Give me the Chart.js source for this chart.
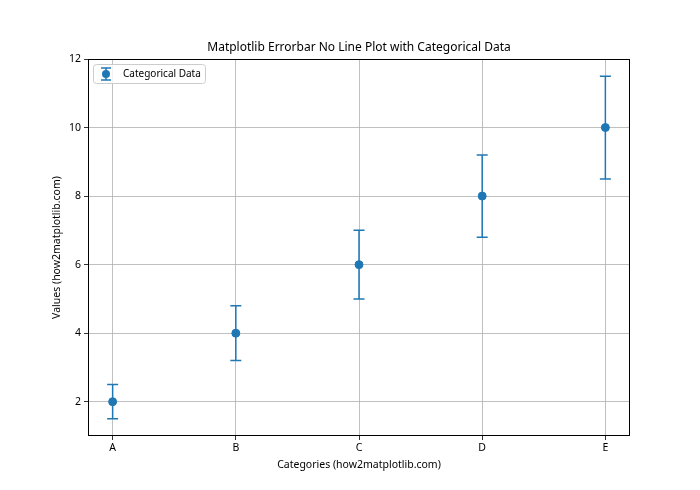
<!DOCTYPE html>
<html>
<head>
<meta charset="utf-8">
<script src="https://cdn.jsdelivr.net/npm/chart.js@4"></script>
<style>
  html, body { margin: 0; padding: 0; background: #fff; }
  #wrap { width: 700px; height: 490px; }
</style>
</head>
<body>
<div id="wrap"><canvas id="chart" width="700" height="490"></canvas></div>
<script>
// данные графика
const categories = ["A", "B", "C", "D", "E"];
const values = [2, 4, 6, 8, 10];
const errors = [0.5, 0.8, 1.0, 1.2, 1.5];
const yTicks = [2, 4, 6, 8, 10, 12];

const BLUE = "#1f77b4";
const FONT = "'Noto Sans', sans-serif";

// усы погрешностей, рамка, заголовок и легенда
const errorbarPlugin = {
    id: "errorbars",
    afterDatasetsDraw(chart) {
        const ctx = chart.ctx;
        const xs = chart.scales.x;
        const ys = chart.scales.y;
        const area = chart.chartArea;

        ctx.save();
        ctx.strokeStyle = BLUE;
        ctx.lineWidth = 1.5;
        values.forEach((v, i) => {
            const px = xs.getPixelForValue(i);
            const top = ys.getPixelForValue(v + errors[i]);
            const bot = ys.getPixelForValue(v - errors[i]);
            ctx.beginPath();
            ctx.moveTo(px, top);
            ctx.lineTo(px, bot);
            ctx.moveTo(px - 5.5, top);
            ctx.lineTo(px + 5.5, top);
            ctx.moveTo(px - 5.5, bot);
            ctx.lineTo(px + 5.5, bot);
            ctx.stroke();
        });

        // рамка
        ctx.strokeStyle = "#000";
        ctx.lineWidth = 1;
        ctx.strokeRect(Math.round(area.left) + 0.5, Math.round(area.top) + 0.5,
            Math.round(area.right - area.left) - 1, Math.round(area.bottom - area.top) - 1);

        // заголовок
        ctx.fillStyle = "#000";
        ctx.font = "12px " + FONT;
        ctx.textAlign = "center";
        ctx.textBaseline = "middle";
        ctx.fillText("Matplotlib Errorbar No Line Plot with Categorical Data", (area.left + area.right) / 2, 48);

        // легенда
        const lx = area.left + 5, ly = area.top + 5, lw = 112, lh = 19;
        ctx.fillStyle = "rgba(255,255,255,0.8)";
        ctx.strokeStyle = "#cccccc";
        ctx.beginPath();
        ctx.roundRect(lx + 0.5, ly + 0.5, lw, lh, 3);
        ctx.fill();
        ctx.stroke();
        const mx = lx + 13, my = ly + 10;
        ctx.strokeStyle = BLUE;
        ctx.lineWidth = 1.5;
        ctx.beginPath();
        ctx.moveTo(mx, my - 6); ctx.lineTo(mx, my + 6);
        ctx.moveTo(mx - 5, my - 6); ctx.lineTo(mx + 5, my - 6);
        ctx.moveTo(mx - 5, my + 6); ctx.lineTo(mx + 5, my + 6);
        ctx.stroke();
        ctx.fillStyle = BLUE;
        ctx.beginPath();
        ctx.arc(mx, my, 4, 0, Math.PI * 2);
        ctx.fill();
        ctx.fillStyle = "#000";
        ctx.font = "10px " + FONT;
        ctx.textAlign = "left";
        ctx.fillText("Categorical Data", lx + 30, my);
        ctx.restore();
    }
};

const points = values.map((v, i) => ({ x: i, y: v }));

new Chart(document.getElementById("chart"), {
    type: "scatter",
    data: {
        datasets: [{
            label: "Categorical Data",
            data: points,
            backgroundColor: BLUE,
            borderColor: BLUE,
            pointRadius: 4,
            pointHoverRadius: 4,
            showLine: false
        }]
    },
    options: {
        responsive: false,
        animation: false,
        events: [],
        layout: { padding: { top: 59, right: 70, left: 0, bottom: 0 } },
        plugins: {
            legend: { display: false },
            title: { display: false },
            tooltip: { enabled: false }
        },
        scales: {
            x: {
                type: "linear",
                min: -0.2,
                max: 4.2,
                afterBuildTicks: (scale) => {
                    scale.ticks = categories.map((c, i) => ({ value: i }));
                },
                afterFit: (scale) => { scale.height = 54; },
                ticks: {
                    callback: (v) => categories[v],
                    color: "#000",
                    font: { family: FONT, size: 10.5 },
                    padding: 2,
                    maxRotation: 0
                },
                grid: { color: "#b0b0b0", lineWidth: 0.8, tickColor: "#000", tickLength: 4 },
                border: { display: false },
                title: {
                    display: true,
                    text: "Categories (how2matplotlib.com)",
                    color: "#000",
                    font: { family: FONT, size: 10.5 },
                    padding: { top: 0, bottom: 19 }
                }
            },
            y: {
                min: 1,
                max: 12,
                afterBuildTicks: (scale) => {
                    scale.ticks = yTicks.map(v => ({ value: v }));
                },
                afterFit: (scale) => { scale.width = 88; },
                ticks: {
                    color: "#000",
                    font: { family: FONT, size: 10.5 },
                    padding: 3
                },
                grid: { color: "#b0b0b0", lineWidth: 0.8, tickColor: "#000", tickLength: 4 },
                border: { display: false },
                title: {
                    display: true,
                    text: "Values (how2matplotlib.com)",
                    color: "#000",
                    font: { family: FONT, size: 10.5 },
                    padding: { top: 51, bottom: 0 }
                }
            }
        }
    },
    plugins: [errorbarPlugin]
});
</script>
</body>
</html>
